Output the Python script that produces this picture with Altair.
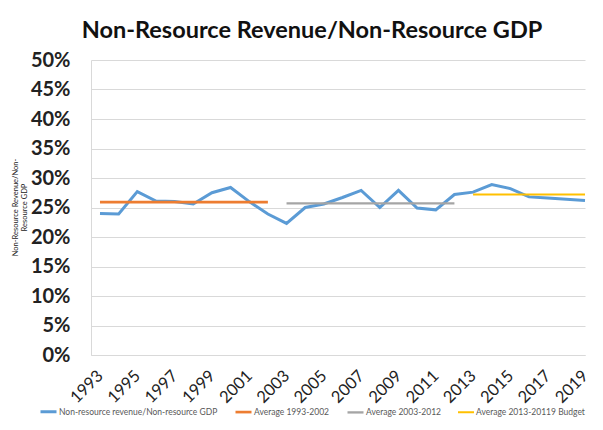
import altair as alt
import pandas as pd

years = list(range(1993, 2020))
revenue = [24.0, 23.9, 27.7, 26.1, 26.0, 25.6, 27.5, 28.4, 26.0, 23.9,
           22.3, 25.0, 25.6, 26.7, 27.9, 25.0, 27.9, 24.9, 24.6, 27.2,
           27.6, 28.9, 28.2, 26.8, 26.6, 26.4, 26.2]

series_names = ["Non-resource revenue/Non-resource GDP", "Average 1993-2002",
                "Average 2003-2012", "Average 2013-20119 Budget"]
series_colors = ["#5B9BD5", "#ED7D31", "#A5A5A5", "#FFC000"]
series_widths = [3, 2, 2, 2]

avg_years = [(1993, 2002), (2003, 2012), (2013, 2019)]
avg_values = [25.9, 25.7, 27.2]

tick_years = list(range(1993, 2020, 2))
y_ticks = [i / 100 for i in range(0, 55, 5)]

rows = [{"series": series_names[0], "year": y, "value": v / 100} for y, v in zip(years, revenue)]
for name, (a, b), v in zip(series_names[1:], avg_years, avg_values):
    for y in range(a, b + 1):
        rows.append({"series": name, "year": y, "value": v / 100})
df = pd.DataFrame(rows)

FONT = "Lato"

chart = alt.Chart(df).mark_line().encode(
    x=alt.X("year:Q",
            scale=alt.Scale(domain=[1992.518, 2019], nice=False, zero=False),
            axis=alt.Axis(values=tick_years, format="d", labelAngle=-45,
                          labelAlign="right", labelBaseline="middle",
                          labelFontSize=16.5, labelColor="#222222", labelFont=FONT,
                          labelPadding=18, labelOffset=0, ticks=False, grid=False,
                          domainColor="#D9D9D9", labelOverlap=False, labelBound=False),
            title=None),
    y=alt.Y("value:Q",
            scale=alt.Scale(domain=[0, 0.5], nice=False),
            axis=alt.Axis(values=y_ticks, format=".0%", labelFontSize=20,
                          labelFontWeight="bold", labelColor="#222222", labelFont=FONT,
                          labelPadding=21, ticks=False, gridColor="#D9D9D9",
                          domainColor="#D9D9D9",
                          title=["Non-Resource Revenue/Non-", "Resource GDP"],
                          titleFontSize=7.5, titleFontWeight="normal", titleFont=FONT,
                          titleColor="#222222", titleX=-76, titleY=147,
                          titleAlign="center", titleBaseline="middle", titleAngle=-90)),
    color=alt.Color("series:N",
                    scale=alt.Scale(domain=series_names, range=series_colors),
                    sort=series_names,
                    legend=alt.Legend(title=None, orient="none", direction="horizontal",
                                      legendX=-52, legendY=342, symbolType="stroke",
                                      symbolSize=256, symbolStrokeWidth=2.5,
                                      labelFontSize=8.5, labelFont=FONT, labelLimit=0,
                                      labelColor="#595959", columnPadding=12,
                                      labelOffset=1)),
    strokeWidth=alt.StrokeWidth("series:N",
                                scale=alt.Scale(domain=series_names, range=series_widths),
                                legend=None),
    detail="series:N",
).properties(
    width=494, height=295,
    autosize=alt.AutoSizeParams(type="none"),
    padding={"left": 83, "top": 52, "right": 10, "bottom": 67},
    title=alt.Title("Non-Resource Revenue/Non-Resource GDP", fontSize=23.5,
                    fontWeight="bold", font=FONT, color="#111111",
                    anchor="middle", frame="group", dx=-26, offset=8),
).configure_view(stroke=None)

chart.save("out.html", embed_options={"renderer": "svg", "actions": False})
